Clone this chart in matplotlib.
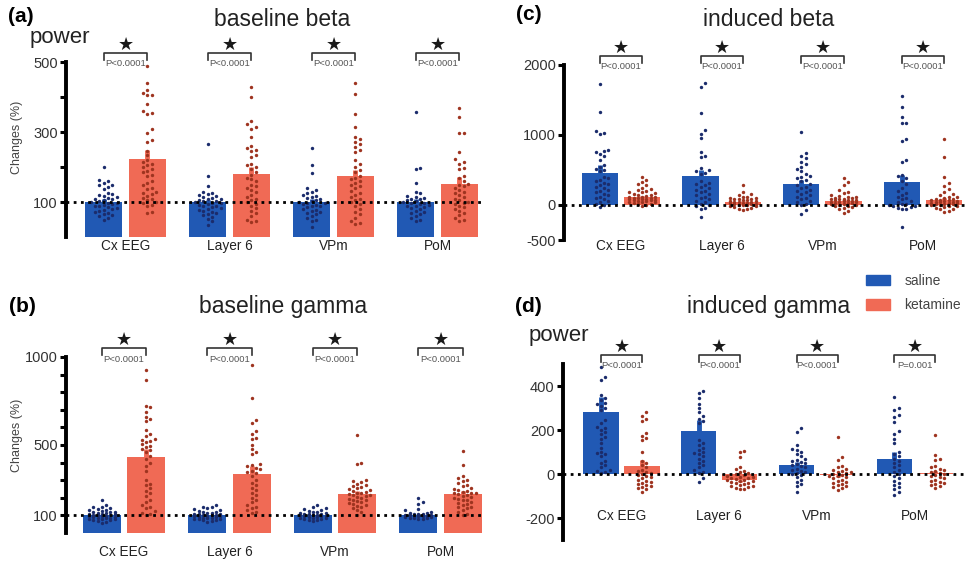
import numpy as np
import matplotlib
matplotlib.use("Agg")
import matplotlib.pyplot as plt
from matplotlib.patches import Patch
from matplotlib.transforms import blended_transform_factory

plt.rcParams["font.family"] = ["Liberation Sans", "DejaVu Sans"]
plt.rcParams["axes.unicode_minus"] = False

regions = ["Cx EEG", "Layer 6", "VPm", "PoM"]

# --- (a) baseline beta power, % change ---
a_saline_mean = [100, 100, 100, 100]
a_saline_sem = [8, 6, 8, 10]
a_ketamine_mean = [222, 180, 174, 151]
a_ketamine_sem = [26, 21, 17, 20]
a_saline_pts = [
    [201, 163, 160, 155, 150, 148, 142, 138, 125, 122, 120, 118, 115, 112, 110, 108, 105, 103, 100,
     98, 96, 95, 92, 90, 88, 85, 82, 80, 78, 75, 72, 70, 65, 62, 60, 55, 50],
    [265, 175, 145, 130, 125, 122, 120, 118, 115, 112, 110, 108, 105, 103, 102, 100, 98, 96, 95,
     92, 90, 88, 85, 82, 80, 78, 75, 72, 70, 66, 62, 58, 52, 45, 34],
    [253, 206, 182, 139, 133, 128, 125, 120, 118, 115, 112, 108, 105, 102, 100, 98, 96, 94, 92,
     90, 88, 85, 80, 78, 75, 72, 70, 65, 60, 55, 50, 45, 29],
    [358, 196, 194, 154, 130, 125, 118, 115, 112, 110, 108, 105, 102, 100, 98, 96, 94, 92, 90,
     88, 85, 82, 80, 75, 72, 68, 65, 60, 55, 50, 45],
]
a_ketamine_pts = [
    [489, 439, 420, 411, 407, 405, 380, 361, 355, 350, 308, 297, 276, 272, 247, 234, 220, 215, 210,
     205, 200, 195, 190, 185, 178, 175, 160, 155, 150, 140, 138, 130, 125, 122, 118, 112, 108, 105,
     100, 98, 92, 88, 72, 68],
    [429, 399, 330, 322, 315, 310, 287, 260, 255, 250, 245, 235, 228, 210, 205, 200, 195, 185, 178,
     170, 165, 160, 150, 145, 140, 135, 128, 120, 115, 110, 105, 100, 95, 88, 82, 75, 68, 60, 50,
     45, 42],
    [441, 409, 351, 315, 285, 280, 272, 265, 258, 250, 242, 220, 210, 200, 192, 185, 175, 170, 165,
     160, 155, 150, 145, 140, 132, 125, 120, 115, 110, 105, 100, 95, 88, 80, 72, 65, 55, 45, 40, 38],
    [368, 344, 298, 296, 244, 222, 215, 210, 198, 194, 175, 168, 160, 152, 148, 145, 140, 135, 130,
     125, 120, 115, 110, 105, 100, 98, 95, 90, 85, 80, 75, 70, 62, 55, 48, 45],
]

# --- (b) baseline gamma power, % change ---
b_saline_mean = [100, 100, 100, 100]
b_saline_sem = [5, 5, 4, 5]
b_ketamine_mean = [432, 338, 224, 224]
b_ketamine_sem = [45, 40, 15, 14]
b_saline_pts = [
    [185, 158, 150, 145, 140, 135, 130, 128, 125, 122, 120, 118, 115, 112, 110, 108, 106, 104, 102,
     100, 98, 96, 94, 92, 90, 88, 86, 84, 82, 80, 78, 75, 72, 68, 62, 55],
    [161, 150, 145, 140, 135, 130, 125, 122, 118, 115, 112, 110, 108, 106, 104, 102, 100, 98, 96,
     95, 93, 90, 88, 86, 84, 82, 80, 78, 75, 72, 68, 62],
    [157, 150, 140, 135, 130, 126, 122, 118, 115, 112, 110, 108, 106, 104, 102, 100, 98, 96, 94,
     92, 90, 88, 86, 84, 82, 80, 76, 72, 68],
    [199, 176, 165, 135, 128, 120, 115, 112, 110, 108, 106, 104, 102, 100, 98, 96, 95, 94, 92,
     90, 88, 86, 84, 82, 80],
]
b_ketamine_pts = [
    [926, 870, 720, 714, 690, 660, 648, 635, 585, 560, 550, 535, 530, 525, 518, 505, 495, 488, 475,
     470, 460, 440, 420, 395, 380, 350, 300, 280, 270, 255, 240, 225, 210, 190, 175, 160, 150, 140,
     125, 115, 108, 102],
    [955, 769, 640, 625, 580, 560, 540, 532, 500, 475, 462, 450, 392, 385, 378, 370, 362, 355, 348,
     340, 325, 300, 285, 270, 255, 245, 230, 215, 200, 190, 175, 160, 150, 140, 130, 122, 115],
    [556, 397, 393, 300, 295, 288, 280, 275, 268, 262, 255, 250, 245, 240, 235, 230, 226, 222, 218,
     215, 210, 205, 200, 195, 190, 185, 180, 175, 170, 165, 160, 155, 150, 140, 130, 120, 105],
    [465, 385, 322, 310, 300, 295, 285, 275, 265, 258, 250, 245, 240, 235, 230, 228, 225, 220, 215,
     210, 205, 200, 195, 190, 185, 178, 170, 165, 158, 150, 145, 140, 130, 120, 110, 100],
]

# --- (c) induced beta power ---
c_saline_mean = [453, 414, 300, 329]
c_saline_sem = [118, 80, 57, 100]
c_ketamine_mean = [110, 48, 62, 71]
c_ketamine_sem = [15, 12, 15, 30]
c_saline_pts = [
    [1729, 1324, 1057, 1030, 1010, 786, 770, 757, 729, 700, 643, 571, 545, 520, 500, 480, 404, 380,
     360, 340, 320, 300, 280, 260, 240, 220, 200, 180, 160, 140, 120, 100, 80, 60, 40, 20, 0, -24],
    [1738, 1681, 1310, 1071, 1014, 952, 762, 700, 680, 533, 500, 480, 460, 440, 343, 320, 300, 280,
     260, 240, 220, 200, 180, 160, 140, 120, 100, 80, 60, 40, 20, 0, -20, -40, -60, -167],
    [1048, 738, 700, 665, 619, 580, 548, 510, 480, 450, 420, 405, 380, 360, 340, 300, 280, 260, 240,
     220, 200, 180, 160, 140, 120, 100, 80, 60, 40, 20, 0, -71, -129],
    [1562, 1395, 1262, 1176, 1170, 938, 919, 643, 619, 429, 410, 380, 350, 300, 250, 200, 170, 150,
     120, 100, 80, 60, 40, 20, 10, 0, -10, -20, -30, -40, -50, -60, -310],
]
c_ketamine_pts = [
    [404, 360, 333, 300, 280, 250, 230, 214, 200, 190, 180, 170, 160, 150, 140, 130, 120, 115, 110,
     105, 100, 95, 90, 85, 80, 75, 70, 65, 60, 55, 50, 45, 40, 30, 20, 10, 0, -20],
    [286, 180, 160, 140, 120, 110, 100, 95, 90, 85, 80, 70, 65, 60, 55, 50, 45, 40, 35, 30, 25, 20,
     15, 10, 5, 0, -5, -10, -20, -30, -40, -50, -60, -71],
    [381, 333, 286, 214, 190, 170, 150, 130, 120, 110, 100, 95, 90, 85, 80, 75, 70, 65, 60, 55, 50,
     45, 40, 35, 30, 25, 20, 10, 5, 0, -10, -20, -30, -45, -60, -80, -110],
    [943, 690, 395, 310, 270, 230, 190, 160, 140, 120, 110, 100, 90, 80, 75, 70, 65, 60, 55, 50, 45,
     40, 35, 30, 25, 20, 15, 10, 5, 0, -10, -20, -30, -40, -50, -60, -80, -100],
]

# --- (d) induced gamma power ---
d_saline_mean = [283, 195, 39, 67]
d_saline_sem = [67, 50, 15, 34]
d_ketamine_mean = [36, -27, -5, 5]
d_ketamine_sem = [28, 8, 8, 8]
d_saline_pts = [
    [488, 442, 427, 360, 345, 335, 325, 318, 310, 300, 290, 245, 230, 215, 210, 200, 190, 180, 170,
     160, 140, 120, 100, 95, 90, 80, 60, 50, 40, 30, 20, 15, 10, 5],
    [379, 367, 345, 320, 300, 280, 265, 250, 240, 230, 155, 140, 130, 120, 110, 100, 95, 90, 80,
     70, 60, 50, 40, 30, 20, 10, 5, -20, -35],
    [208, 192, 132, 115, 110, 100, 90, 80, 70, 65, 60, 55, 50, 45, 40, 35, 30, 25, 20, 15, 10, 5,
     0, -5, -15, -25, -35, -45, -55, -80],
    [351, 300, 290, 270, 258, 238, 197, 180, 160, 139, 101, 90, 80, 70, 60, 50, 40, 30, 20, 10, 0,
     -10, -20, -30, -40, -50, -60, -70, -80, -95],
]
d_ketamine_pts = [
    [280, 265, 250, 240, 188, 175, 165, 155, 101, 60, 50, 40, 30, 20, 15, 10, 5, 0, -5, -10, -15,
     -20, -25, -30, -35, -40, -45, -50, -55, -60, -65, -70, -80],
    [106, 100, 79, 30, 25, 15, 10, 5, 0, -5, -10, -12, -15, -18, -20, -22, -25, -28, -30, -33, -36,
     -40, -43, -46, -50, -53, -56, -60, -63, -66, -70],
    [170, 76, 64, 35, 30, 25, 20, 15, 10, 8, 5, 0, -5, -8, -10, -15, -20, -25, -30, -35, -40, -45,
     -50, -55, -60, -65, -73],
    [177, 86, 70, 64, 35, 30, 25, 20, 15, 10, 5, 0, -5, -10, -15, -20, -25, -30, -35, -40, -45, -50,
     -55, -65],
]

p_values = {
    "a": ["P<0.0001"] * 4,
    "b": ["P<0.0001"] * 4,
    "c": ["P<0.0001"] * 4,
    "d": ["P<0.0001", "P<0.0001", "P<0.0001", "P=0.001"],
}

BLUE = "#2159b4"
RED = "#f06a55"
BLUE_DOT = "#1b2c6c"
RED_DOT = "#9e3420"

W, H = 968, 562
fig = plt.figure(figsize=(W / 100, H / 100), dpi=100)


def fx(x):
    return x / W


def fy(y):
    return 1 - y / H


def make_ax(left, right, top, bottom):
    return fig.add_axes([fx(left), fy(bottom), (right - left) / W, (bottom - top) / H])


def swarm_x(ax, x0, vals, dot_px=4.3, max_px=17):
    """Beeswarm offsets (in data units) around x0, computed in pixel space."""
    vals = np.asarray(vals, float)
    pix = ax.transData.transform(np.column_stack([np.full(len(vals), x0), vals]))
    ys = pix[:, 1]
    ppu = ax.transData.transform([[1, 0]])[0, 0] - ax.transData.transform([[0, 0]])[0, 0]
    cands = [0.0]
    k = 1
    while k * dot_px <= max_px:
        cands += [k * dot_px, -k * dot_px]
        k += 1
    placed = []
    offs = np.zeros(len(vals))
    for i in np.argsort(ys):
        y = ys[i]
        best, best_d = cands[0], -1
        for c in cands:
            d = min([np.hypot(c - px, y - py) for px, py in placed] or [99])
            if d >= dot_px:
                best = c
                break
            if d > best_d:
                best, best_d = c, d
        placed.append((best, y))
        offs[i] = best
    return x0 + offs / ppu


def draw_panel(ax, xl, s_mean, s_sem, k_mean, k_sem, s_pts, k_pts, ylim, base,
               major, minor, pvals, label_y):
    x = np.arange(len(regions))
    off, bw = 0.21, 0.36
    ax.set_ylim(*ylim)
    ax.set_xlim(*xl)
    ax.bar(x - off, s_mean, bw, color=BLUE, zorder=1)
    ax.bar(x + off, k_mean, bw, color=RED, zorder=1)
    for m, e, xx, col in list(zip(s_mean, s_sem, x - off, [BLUE] * 4)) + \
            list(zip(k_mean, k_sem, x + off, [RED] * 4)):
        ax.vlines(xx, m, m + np.sign(m) * e, color=col, lw=3.5, zorder=1.5)
    for i in range(len(regions)):
        ax.scatter(swarm_x(ax, x[i] - off, s_pts[i]), s_pts[i], s=6, color=BLUE_DOT,
                   zorder=3, linewidths=0)
        ax.scatter(swarm_x(ax, x[i] + off, k_pts[i]), k_pts[i], s=6, color=RED_DOT,
                   zorder=3, linewidths=0)
    ax.axhline(base, color="black", ls=(0, (1, 1.6)), lw=2, zorder=4)

    for s in ["top", "right", "bottom"]:
        ax.spines[s].set_visible(False)
    ax.spines["left"].set_linewidth(2.8)
    ax.set_xticks([])
    ax.set_yticks(major)
    ax.set_yticks(minor, minor=True)
    ax.tick_params(axis="y", which="both", length=4, width=2.2, pad=2,
                   labelsize=10.5, labelcolor="#333333")

    # region names
    tr = blended_transform_factory(ax.transData, ax.transAxes)
    for i, name in enumerate(regions):
        ax.text(x[i], label_y, name, transform=tr, ha="center", va="center",
                fontsize=9.8, color="#222222")

    # significance brackets above each pair
    hpx = ax.get_position().height * H
    top = 1 + 9 / hpx
    leg = 1 + 2 / hpx
    for i in range(len(regions)):
        x0, x1 = x[i] - off, x[i] + off
        ax.plot([x0, x0, x1, x1], [leg, top, top, leg], transform=tr, color="#333333",
                lw=1.2, clip_on=False)
        ax.text(x[i], 1 + 17 / hpx, "\u2605", transform=tr, ha="center", va="center",
                fontsize=13, color="#1a1a1a", family=["DejaVu Sans"])
        ax.text(x[i], 1 - 2 / hpx, pvals[i], transform=tr, ha="center", va="center",
                fontsize=6.8, color="#555555")


# panel (a)
ax_a = make_ax(66, 482, 62, 237)
draw_panel(ax_a, ((66 - 125.5) / 104, (482 - 125.5) / 104),
           a_saline_mean, a_saline_sem, a_ketamine_mean, a_ketamine_sem,
           a_saline_pts, a_ketamine_pts, (0, 500), 100, [100, 300, 500], [200, 400],
           p_values["a"], -0.05)

# panel (b)
ax_b = make_ax(66, 482, 357, 533)
draw_panel(ax_b, ((66 - 124) / 105.5, (482 - 124) / 105.5),
           b_saline_mean, b_saline_sem, b_ketamine_mean, b_ketamine_sem,
           b_saline_pts, b_ketamine_pts, (0, 1000), 100, [100, 500, 1000],
           [200, 300, 400, 600, 700, 800, 900], p_values["b"], -0.108)

# panel (c)
ax_c = make_ax(564, 966, 65, 240)
draw_panel(ax_c, ((564 - 621) / 100.7, (966 - 621) / 100.7),
           c_saline_mean, c_saline_sem, c_ketamine_mean, c_ketamine_sem,
           c_saline_pts, c_ketamine_pts, (-500, 2000), 0, [-500, 0, 1000, 2000], [],
           p_values["c"], -0.034)

# panel (d)
ax_d = make_ax(563, 966, 364, 540)
draw_panel(ax_d, ((563 - 621.5) / 97.8, (966 - 621.5) / 97.8),
           d_saline_mean, d_saline_sem, d_ketamine_mean, d_ketamine_sem,
           d_saline_pts, d_ketamine_pts, (-300, 500), 0, [-200, 0, 200, 400], [],
           p_values["d"], 0.136)

# panel letters, titles and side labels
for lab, px, py in [("(a)", 8, 17), ("(c)", 516, 15), ("(b)", 9, 307), ("(d)", 515, 307)]:
    fig.text(fx(px), fy(py), lab, fontsize=15, fontweight="bold", va="center", ha="left")
for t, px, py in [("baseline beta", 282, 20), ("induced beta", 769, 20),
                  ("baseline gamma", 283, 307), ("induced gamma", 769, 307)]:
    fig.text(fx(px), fy(py), t, fontsize=16.5, ha="center", va="center", color="#222222")
fig.text(fx(30), fy(38), "power", fontsize=16, ha="left", va="center", color="#222222")
fig.text(fx(529), fy(335), "power", fontsize=16, ha="left", va="center", color="#222222")
for py in (137, 435):
    fig.text(fx(17), fy(py), "Changes (%)", fontsize=9, rotation=90, ha="center",
             va="center", color="#444444")

fig.legend(handles=[Patch(color=BLUE), Patch(color=RED)], labels=["saline", "ketamine"],
           loc="upper left", bbox_to_anchor=(fx(866), fy(274)), frameon=False,
           borderpad=0, borderaxespad=0, fontsize=10, handlelength=1.75,
           handleheight=0.8, labelspacing=0.75, handletextpad=1.0, labelcolor="#444444")

fig.savefig("out.png", dpi=100)
